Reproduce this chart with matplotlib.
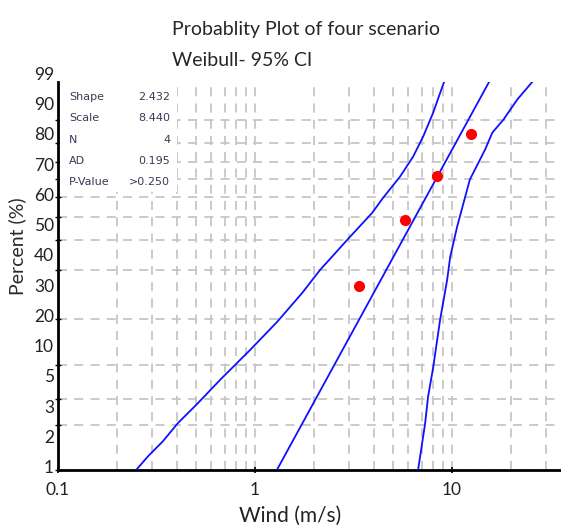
import numpy as np
import matplotlib
matplotlib.use('Agg')
import matplotlib.pyplot as plt
from matplotlib.patches import Rectangle
from matplotlib.ticker import LogLocator, NullFormatter

plt.rcParams['font.family'] = ['Lato', 'DejaVu Sans']

# data
wind = [3.37, 5.77, 8.39, 12.48]
pct = [16.1, 38.6, 61.9, 84.3]

# fitted line (two ends, straight on weibull paper)
fit_x = [1.29, 15.4]
fit_p = [1.0, 98.4]

# 95% confidence band, lower side
lo_x = [0.249, 0.287, 0.341, 0.406, 0.508, 0.665, 0.944, 1.294, 1.734,
        2.14, 3.03, 3.93, 4.47, 5.44, 6.34, 7.13, 8.01, 9.10]
lo_p = [1.0, 1.24, 1.56, 2.06, 2.76, 3.99, 6.27, 9.52, 14.5,
        20.1, 31.2, 41.9, 49.7, 61.4, 72.7, 83.0, 92.3, 98.4]

# 95% confidence band, upper side
hi_x = [6.72, 7.30, 7.55, 8.01, 8.69, 9.44, 9.78, 10.6, 12.3, 14.7,
        16.0, 18.2, 21.4, 25.5]
hi_p = [1.0, 2.06, 3.08, 4.78, 9.80, 17.5, 24.0, 35.4, 59.7, 76.5,
        84.8, 90.0, 95.7, 98.4]

stat_names = ['Shape', 'Scale', 'N', 'AD', 'P-Value']
stat_vals = ['2.432', '8.440', '4', '0.195', '>0.250']

y_ticks = [1, 2, 3, 5, 10, 20, 30, 40, 50, 60, 70, 80, 90]
y_labels = ['1', '2', '3', '5', '10', '20', '30', '40', '50', '60', '70',
            '80', '90', '99']


def fwd(p):
    p = np.clip(np.asarray(p, dtype=float) / 100.0, 1e-9, 1 - 1e-9)
    return np.log(-np.log(1 - p))


def inv(w):
    return 100.0 * (1 - np.exp(-np.exp(w)))


fig = plt.figure(figsize=(5.61, 5.29), dpi=100)
ax = fig.add_axes([0.1034, 0.1115, 0.8966, 0.7335])
ax.set_xscale('log')
ax.set_yscale('function', functions=(fwd, inv))
ax.set_xlim(0.1, 35.7)
ax.set_ylim(1, 98.4)

grid_kw = dict(color='#c6c6c6', linestyle=(0, (5, 4)), linewidth=1.3)
ax.xaxis.set_minor_locator(LogLocator(base=10, subs=np.arange(2, 10)))
ax.xaxis.set_minor_formatter(NullFormatter())
ax.grid(True, which='both', axis='x', **grid_kw)
ax.set_yticks(y_ticks)
ax.set_yticklabels([])
ax.yaxis.set_minor_locator(plt.NullLocator())
ax.grid(True, which='major', axis='y', **grid_kw)
ax.set_axisbelow(True)

ax.set_xticks([0.1, 1, 10])
ax.set_xticklabels(['0.1', '1', '10'], fontsize=12.5, color='#222222')
ax.tick_params(axis='x', which='major', direction='inout', length=5, width=1.2, pad=6)
ax.tick_params(axis='x', which='minor', length=0)
ax.tick_params(axis='y', direction='inout', length=5, width=1, labelleft=False)

for s in ['top', 'right']:
    ax.spines[s].set_visible(False)
for s in ['left', 'bottom']:
    ax.spines[s].set_linewidth(2)
    ax.spines[s].set_color('black')

# curves
ax.plot(lo_x, lo_p, color='#1010ff', lw=1.3, zorder=3)
ax.plot(fit_x, fit_p, color='#1010ff', lw=1.3, zorder=3)
ax.plot(hi_x, hi_p, color='#1010ff', lw=1.3, zorder=3)
ax.plot(wind, pct, 'o', color='#ff0000', ms=7, zorder=4)

# y labels (evenly spaced as in the original figure)
for lab, fy in zip(y_labels, np.linspace(0.005, 1.018, len(y_labels))):
    ax.text(-0.008, fy, lab, transform=ax.transAxes, ha='right', va='center',
            fontsize=12.5, color='#222222', clip_on=False)

# stats box
ax.add_patch(Rectangle((0.004, 0.716), 0.232, 0.272, transform=ax.transAxes,
                       facecolor='white', edgecolor='none', zorder=2))
rows = np.linspace(0.961, 0.742, len(stat_names))
for name, val, fy in zip(stat_names, stat_vals, rows):
    ax.text(0.022, fy, name, transform=ax.transAxes, ha='left', va='center',
            fontsize=8, color='#3a3a55', family='DejaVu Sans', zorder=3)
    ax.text(0.223, fy, val, transform=ax.transAxes, ha='right', va='center',
            fontsize=8, color='#3a3a55', family='DejaVu Sans', zorder=3)

fig.text(0.307, 1 - 35 / 529, 'Probablity Plot of four scenario', fontsize=14,
         color='#262626', ha='left', va='baseline')
fig.text(0.307, 1 - 66 / 529, 'Weibull- 95% CI', fontsize=14,
         color='#262626', ha='left', va='baseline')
fig.text(0.030, 0.535, 'Percent (%)', rotation=90, fontsize=14,
         color='#2a2a2a', ha='center', va='center')
fig.text(0.517, 1 - 516 / 529, 'Wind (m/s)', fontsize=15,
         color='#222222', ha='center', va='center')

fig.savefig('out.png', dpi=100)
